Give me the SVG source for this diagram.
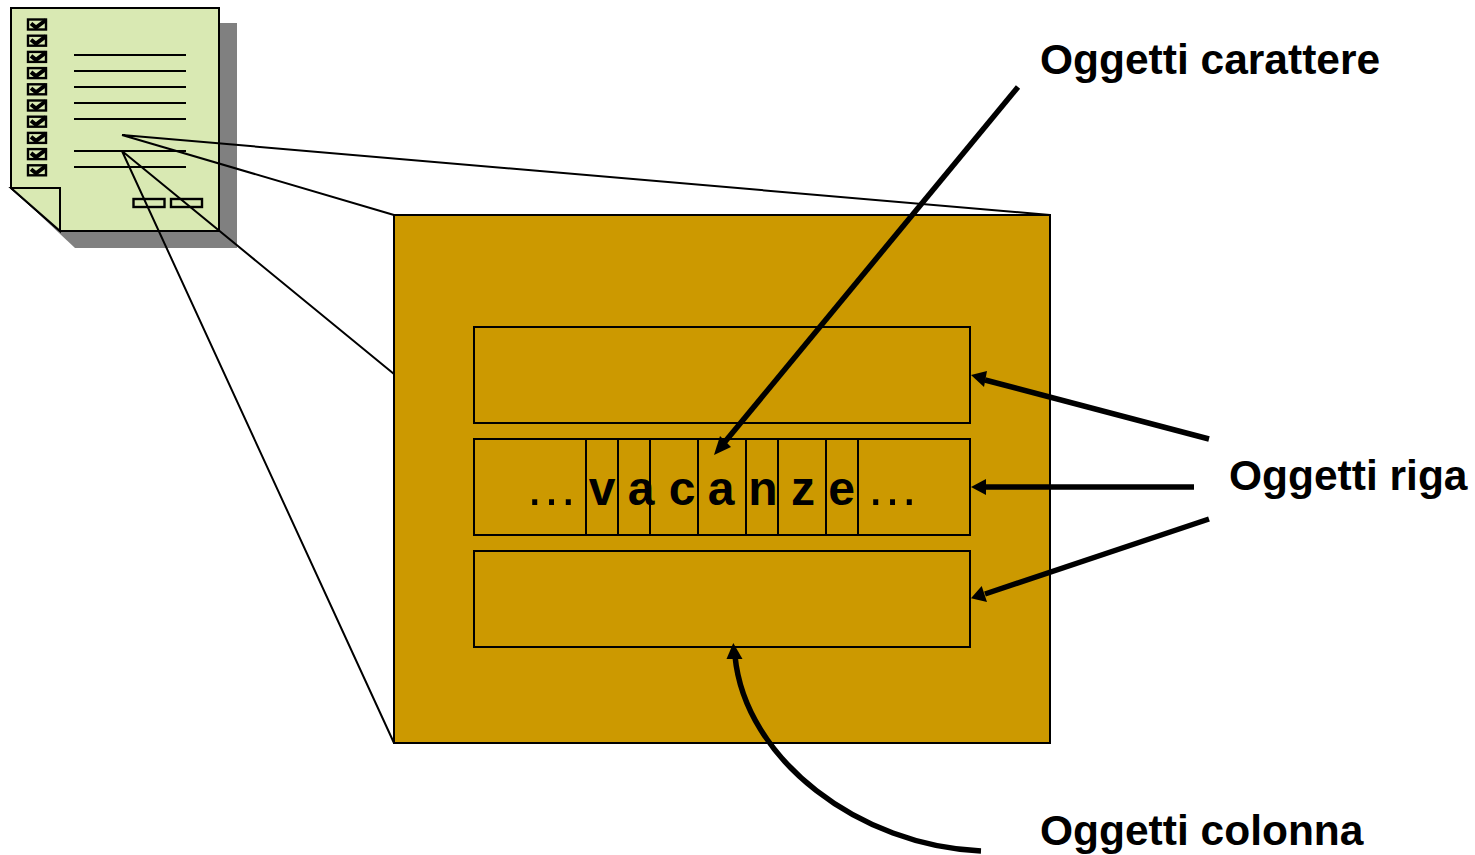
<svg xmlns="http://www.w3.org/2000/svg" width="1475" height="855" viewBox="0 0 1475 855">
<style>
.ln{stroke:#000;stroke-width:2;fill:none}
.ar{stroke:#000;stroke-width:5.500;fill:none}
.hd{fill:#000;stroke:none}
.th{stroke:#000;stroke-width:1.800;fill:none}
.t{font-family:"Liberation Sans",Arial,sans-serif;font-weight:700;font-size:42.500px;fill:#000}
.c{font-family:"Liberation Sans",Arial,sans-serif;font-weight:700;font-size:48px;fill:#000;text-anchor:middle}
.e{font-family:"Liberation Sans",Arial,sans-serif;font-weight:400;font-size:53px;fill:#000;text-anchor:middle}
.box{fill:#cc9900;stroke:#000;stroke-width:2}
.cb{fill:#d9e9b3;stroke:#000;stroke-width:2.400}
.ck{fill:none;stroke:#000;stroke-width:4}
</style>
<defs>
<g id="chk"><rect x="0" y="0" width="18" height="10" class="cb"/><path class="ck" d="M3 4L8 8L18 0.500"/></g>
</defs>
<g id="document">
<path d="M27 23H237V248H75L27 203Z" fill="#808080"/>
<path d="M11 8H219V231H60L11 188Z" fill="#d9e9b3" stroke="#000" stroke-width="2"/>
<path d="M11 188H60V231Z" fill="#d9e9b3" stroke="#000" stroke-width="2"/>
<use href="#chk" x="28" y="19.500"/><use href="#chk" x="28" y="35.700"/><use href="#chk" x="28" y="51.900"/><use href="#chk" x="28" y="68.100"/><use href="#chk" x="28" y="84.300"/><use href="#chk" x="28" y="100.500"/><use href="#chk" x="28" y="116.700"/><use href="#chk" x="28" y="132.900"/><use href="#chk" x="28" y="149.100"/><use href="#chk" x="28" y="165.300"/>
<path class="th" d="M74 55H186M74 71H186M74 87H186M74 103H186M74 119H186M74 151H186M74 167H186"/>
<rect x="133.500" y="199" width="31" height="8" class="cb"/>
<rect x="171" y="199" width="31" height="8" class="cb"/>
</g>
<g id="page">
<rect x="394" y="215" width="656" height="528" class="box"/>
</g>
<g id="row-1"><rect x="474" y="327" width="496" height="96" class="box"/></g>
<g id="row-2">
<rect x="474" y="439" width="496" height="96" class="box"/>
<path class="ln" d="M586 439V535M618 439V535M650 439V535M698 439V535M746 439V535M778 439V535M826 439V535M858 439V535"/>
<text class="e" x="551.500" y="505">…</text>
<text class="c" x="602" y="505">v</text>
<text class="c" x="641" y="505">a</text>
<text class="c" x="682" y="505">c</text>
<text class="c" x="721" y="505">a</text>
<text class="c" x="763" y="505">n</text>
<text class="c" x="803" y="505">z</text>
<text class="c" x="841.500" y="505">e</text>
<text class="e" x="892.500" y="505">…</text>
</g>
<g id="labels">
<text class="t" x="1040" y="74">Oggetti carattere</text>
<text class="t" x="1229" y="490">Oggetti riga</text>
<text class="t" x="1040" y="845">Oggetti colonna</text>
</g>
<g id="row-3"><rect x="474" y="551" width="496" height="96" class="box"/></g>
<g id="connectors">
<path class="ln" d="M122 135L1050 215M122 135L394 215M122 151L394 374M122 151L394 743"/>
<path class="ar" d="M1018 87L724 443"/><path class="hd" d="M714 455L720 436L731 447Z"/>
<path class="ar" d="M1209 439L985 380"/><path class="hd" d="M971 375L987 371L984 387Z"/>
<path class="ar" d="M1194 487L985 487"/><path class="hd" d="M971 487L986 479V495Z"/>
<path class="ar" d="M1209 519L985 594"/><path class="hd" d="M971 598.300L981.700 586L987 602Z"/>
<path class="ar" d="M981 851C860 846 745 760 735 656"/><path class="hd" d="M733.300 643L742.500 659L726.500 659Z"/>
</g>
</svg>
